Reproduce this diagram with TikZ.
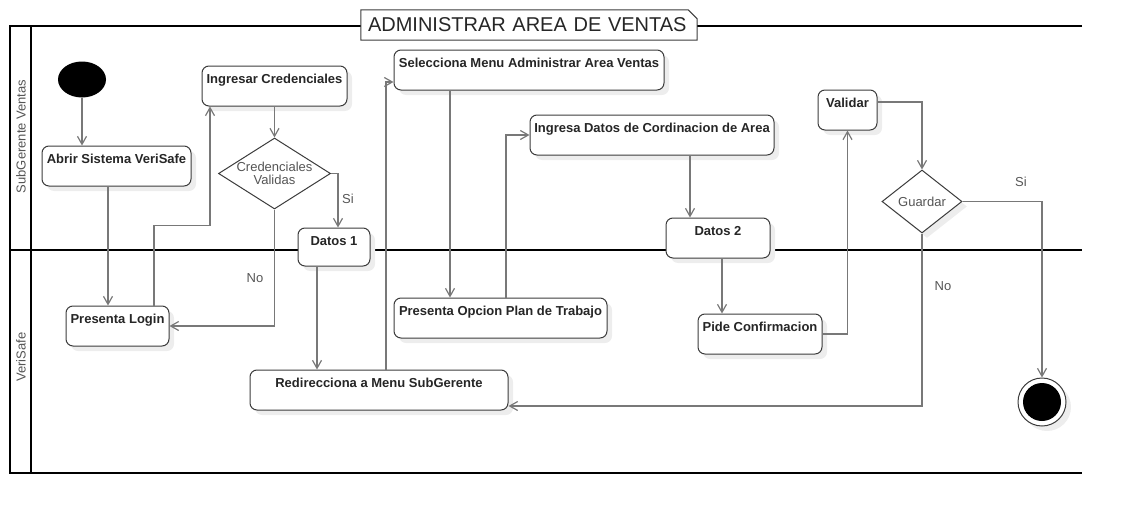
\documentclass[tikz,border=0pt]{standalone}
\usepackage{fontspec}
\setmainfont{Liberation Sans}
\usepackage{tikz}
\usetikzlibrary{arrows.meta, shapes.geometric, shadows}

\definecolor{linea}{RGB}{120,120,120}
\definecolor{borde}{RGB}{60,60,60}
\definecolor{textogris}{RGB}{85,85,85}

\tikzset{
  carril/.style={line width=1.4pt, black},
  nombrecarril/.style={rotate=90, text=textogris, font=\fontsize{13}{15}\selectfont},
  titulo/.style={fill=white, text width=322, align=left, minimum height=30, inner xsep=7pt, inner ysep=0pt,
    text=black!85, font=\fontsize{20}{24}\selectfont},
  marco/.style={draw=borde, line width=1pt},
  sombra/.style={drop shadow={shadow xshift=5pt, shadow yshift=-5pt, fill=black!7, opacity=1}},
  actividad/.style={draw=borde, line width=1pt, rounded corners=7pt, fill=white, sombra,
    minimum height=40, inner xsep=0pt, inner ysep=7pt, text height=10pt, text depth=16pt,
    text=black!85, font=\fontsize{13}{15}\selectfont\bfseries},
  decision/.style={diamond, draw=borde, line width=1pt, fill=white, inner sep=0pt},
  texto decision/.style={align=center, text=textogris, font=\fontsize{13}{13}\selectfont},
  inicio/.style={ellipse, fill=black, minimum width=48, minimum height=36, inner sep=0pt},
  fin/.style={circle, draw=borde, line width=1pt, fill=white, sombra, minimum size=48, inner sep=0pt,
    path picture={\fill[black] (path picture bounding box.center) circle (19pt);}},
  flujo/.style={draw=linea, line width=1.2pt},
  etiqueta/.style={text=textogris, font=\fontsize{13}{15}\selectfont}
}

\begin{document}
\begin{tikzpicture}[x=1pt, y=-1pt, >={Straight Barb[length=8pt,width=9pt]}]
    \useasboundingbox (0,0) rectangle (1122,514);

    % Carriles
    \draw[carril] (1082,26) -- (10,26) -- (10,473) -- (1082,473);
    \draw[carril] (31,26) -- (31,473);
    \draw[carril] (10,250) -- (1082,250);
    \node[nombrecarril] (lsub) at (21,136.5) {SubGerente Ventas};
    \node[nombrecarril] (lveri) at (21,357) {VeriSafe};

    % Titulo
    \node[titulo] (titulo) at (529,25) {ADMINISTRAR AREA DE VENTAS};
    \draw[marco] (titulo.north west) -- ([xshift=-9pt]titulo.north east) -- ([yshift=-9pt]titulo.north east)
        -- (titulo.south east) -- (titulo.south west) -- cycle;

    % Actividades
    \node[inicio] (inicio) at (82,79.5) {};
    \node[actividad, minimum width=149] (abrir) at (116.5,166) {Abrir Sistema VeriSafe};
    \node[actividad, minimum width=103] (login) at (117.5,326) {Presenta Login};
    \node[actividad, minimum width=145] (ingresar) at (274.5,86) {Ingresar Credenciales};
    \node[decision, minimum width=112, minimum height=71,
        label={[texto decision]center:{Credenciales\\Validas}}] (credenciales) at (274.5,173.5) {};
    \node[actividad, minimum width=72, minimum height=38, text depth=14pt] (datos1) at (334,247) {Datos 1};
    \node[actividad, minimum width=258] (redir) at (379,390) {Redirecciona a Menu SubGerente};
    \node[actividad, minimum width=270] (selecciona) at (529,70) {Selecciona Menu Administrar Area Ventas};
    \node[actividad, minimum width=213] (opcion) at (500.5,318) {Presenta Opcion Plan de Trabajo};
    \node[actividad, minimum width=244] (ingresa) at (652,135) {Ingresa Datos de Cordinacion de Area};
    \node[actividad, minimum width=104] (datos2) at (718,238) {Datos 2};
    \node[actividad, minimum width=124] (pide) at (760,334) {Pide Confirmacion};
    \node[actividad, minimum width=59] (validar) at (847.5,110) {Validar};
    \node[decision, sombra, minimum width=80, minimum height=63,
        label={[texto decision]center:Guardar}] (guardar) at (922,201.5) {};
    \node[fin] (fin) at (1042,402) {};

    % Flujos
    \draw[flujo, ->] (inicio) -- (inicio |- abrir.north);
    \draw[flujo, ->] ([xshift=-8.5pt]abrir.south) -- ([xshift=-9.5pt]login.north);
    \draw[flujo, ->] ([xshift=36.5pt]login.north) -- ++(0,-80) -| ([xshift=-64.5pt]ingresar.south);
    \draw[flujo, ->] (ingresar) -- (credenciales);
    \draw[flujo, ->] (credenciales.east) -| ([xshift=4pt]datos1.north);
    \draw[flujo, ->] (credenciales.south) |- (login.east);
    \draw[flujo, ->] ([xshift=-17pt]datos1.south) -- ([xshift=-62pt]redir.north);
    \draw[flujo, ->] ([xshift=7pt]redir.north) |- ([yshift=-12pt]selecciona.west);
    \draw[flujo, ->] ([xshift=-79pt]selecciona.south) -- ([xshift=-50.5pt]opcion.north);
    \draw[flujo, ->] ([xshift=5.5pt]opcion.north) |- (ingresa.west);
    \draw[flujo, ->] ([xshift=38pt]ingresa.south) -- ([xshift=-28pt]datos2.north);
    \draw[flujo, ->] ([xshift=4pt]datos2.south) -- ([xshift=-38pt]pide.north);
    \draw[flujo, ->] (pide.east) -| (validar.south);
    \draw[flujo, ->] ([yshift=8pt]validar.east) -| (guardar.north);
    \draw[flujo, ->] (guardar.east) -| (fin.north);
    \draw[flujo, ->] (guardar.south) |- ([yshift=-16pt]redir.east);

    % Etiquetas
    \node[etiqueta] (si1) at (348,199) {Si};
    \node[etiqueta] (no1) at (255,278) {No};
    \node[etiqueta] (si2) at (1021,182) {Si};
    \node[etiqueta] (no2) at (943,286) {No};
\end{tikzpicture}
\end{document}
